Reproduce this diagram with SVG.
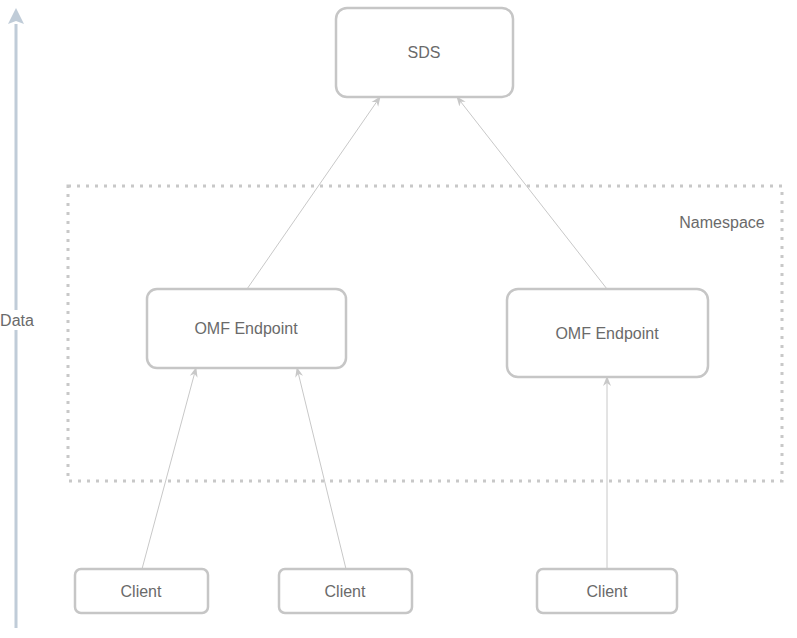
<svg xmlns="http://www.w3.org/2000/svg" width="797" height="638" viewBox="0 0 797 638">
<style>
.box{fill:#fff;stroke:#c6c6c6;stroke-width:2.5}
.lbl{font-family:"Liberation Sans",Arial,sans-serif;font-size:16px;fill:#6a6a6a;text-anchor:middle;dominant-baseline:central}
.conn{stroke:#c8c8c8;stroke-width:1;fill:none;marker-end:url(#ah)}
</style>
<defs>
<marker id="ah" viewBox="0 0 10 10" refX="9" refY="5" markerWidth="10" markerHeight="10" markerUnits="userSpaceOnUse" orient="auto">
<path d="M0,1 L10,5 L0,9 L3,5 Z" fill="#c8c8c8"/>
</marker>
</defs>
<rect width="797" height="638" fill="#fff"/>
<g id="data-axis">
<line x1="16" y1="628" x2="16" y2="24" stroke="#c0ccd8" stroke-width="3"/>
<path d="M16,8 L24,24 L16,21 L8,24 Z" fill="#c0ccd8"/>
<rect x="0" y="310" width="34" height="20" fill="#fff"/>
<text class="lbl" x="17" y="320">Data</text>
</g>
<g id="namespace">
<rect x="68" y="186" width="714" height="295" fill="none" stroke="#c8c8c8" stroke-width="3" stroke-dasharray="3 6"/>
<text class="lbl" x="722" y="222">Namespace</text>
</g>
<g id="connectors">
<line class="conn" x1="247" y1="289" x2="380" y2="97"/>
<line class="conn" x1="607" y1="289" x2="457" y2="97"/>
<line class="conn" x1="142" y1="569" x2="196" y2="368"/>
<line class="conn" x1="346" y1="569" x2="297" y2="368"/>
<line class="conn" x1="607" y1="569" x2="607" y2="377"/>
</g>
<g id="sds">
<rect class="box" x="336" y="8" width="177" height="89" rx="11"/>
<text class="lbl" x="424" y="52">SDS</text>
</g>
<g id="omf-left">
<rect class="box" x="147" y="289" width="199" height="79" rx="10"/>
<text class="lbl" x="246" y="328">OMF Endpoint</text>
</g>
<g id="omf-right">
<rect class="box" x="507" y="289" width="201" height="88" rx="11"/>
<text class="lbl" x="607" y="333">OMF Endpoint</text>
</g>
<g id="client1">
<rect class="box" x="75" y="569" width="133" height="44" rx="6"/>
<text class="lbl" x="141" y="591">Client</text>
</g>
<g id="client2">
<rect class="box" x="279" y="569" width="133" height="44" rx="6"/>
<text class="lbl" x="345" y="591">Client</text>
</g>
<g id="client3">
<rect class="box" x="537" y="569" width="140" height="44" rx="6"/>
<text class="lbl" x="607" y="591">Client</text>
</g>
</svg>
